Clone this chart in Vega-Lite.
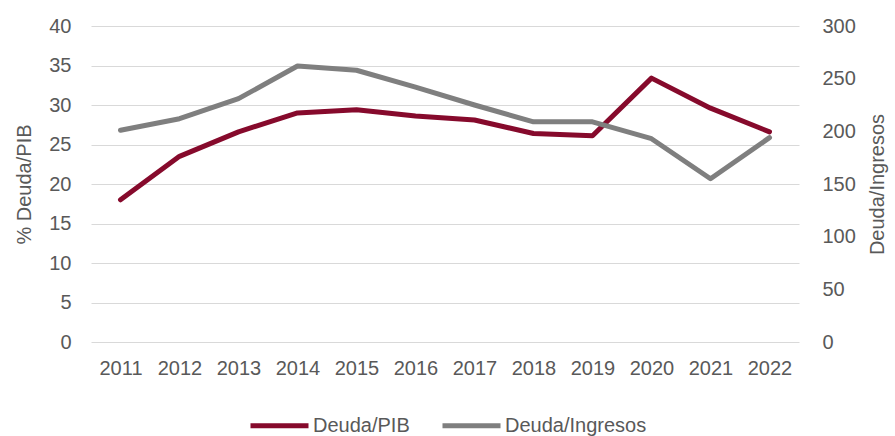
{
  "$schema": "https://vega.github.io/schema/vega-lite/v6.json",
  "width": 708,
  "height": 316,
  "autosize": {"type": "none"},
  "padding": {"left": 91, "top": 26, "right": 96, "bottom": 94},
  "background": "white",
  "config": {
    "view": {"stroke": null},
    "font": "Liberation Sans",
    "axis": {
      "labelColor": "#595959",
      "titleColor": "#595959",
      "labelFontSize": 20,
      "titleFontSize": 20,
      "titleFontWeight": "normal",
      "ticks": false,
      "domain": false
    }
  },
  "data": {
    "values": [
      {"year": "2011", "pib": 18.0, "ing": 201},
      {"year": "2012", "pib": 23.5, "ing": 212},
      {"year": "2013", "pib": 26.6, "ing": 231},
      {"year": "2014", "pib": 29.0, "ing": 262},
      {"year": "2015", "pib": 29.4, "ing": 258},
      {"year": "2016", "pib": 28.6, "ing": 242},
      {"year": "2017", "pib": 28.1, "ing": 225},
      {"year": "2018", "pib": 26.4, "ing": 209},
      {"year": "2019", "pib": 26.1, "ing": 209},
      {"year": "2020", "pib": 33.4, "ing": 193},
      {"year": "2021", "pib": 29.6, "ing": 155},
      {"year": "2022", "pib": 26.6, "ing": 194}
    ]
  },
  "encoding": {
    "x": {
      "field": "year",
      "type": "ordinal",
      "axis": {"labelAngle": 0, "title": null, "labelPadding": 16, "grid": false}
    }
  },
  "layer": [
    {
      "mark": {"type": "line", "strokeWidth": 5, "strokeCap": "round", "strokeJoin": "round"},
      "encoding": {
        "y": {
          "field": "pib",
          "type": "quantitative",
          "scale": {"domain": [0, 40]},
          "axis": {
            "title": "% Deuda/PIB",
            "values": [0, 5, 10, 15, 20, 25, 30, 35, 40],
            "grid": true,
            "gridColor": "#D9D9D9",
            "gridWidth": 1.2,
            "labelPadding": 20,
            "titlePadding": 14
          }
        },
        "color": {
          "datum": "Deuda/PIB",
          "type": "nominal",
          "scale": {"domain": ["Deuda/PIB", "Deuda/Ingresos"], "range": ["#860A2C", "#7F7F7F"]},
          "legend": {
            "title": null,
            "orient": "none",
            "direction": "horizontal",
            "legendX": 157,
            "legendY": 368,
            "symbolType": "stroke",
            "symbolSize": 3364,
            "symbolStrokeWidth": 5,
            "labelFontSize": 20,
            "labelColor": "#595959",
            "labelOffset": 2,
            "columnPadding": 22
          }
        }
      }
    },
    {
      "mark": {"type": "line", "strokeWidth": 5, "strokeCap": "round", "strokeJoin": "round"},
      "encoding": {
        "y": {
          "field": "ing",
          "type": "quantitative",
          "scale": {"domain": [0, 300]},
          "axis": {
            "orient": "right",
            "title": "Deuda/Ingresos",
            "titleAngle": 270,
            "titleBaseline": "top",
            "values": [0, 50, 100, 150, 200, 250, 300],
            "grid": false,
            "labelPadding": 23,
            "titlePadding": 12
          }
        },
        "color": {"datum": "Deuda/Ingresos", "type": "nominal"}
      }
    }
  ],
  "resolve": {"scale": {"y": "independent"}}
}
